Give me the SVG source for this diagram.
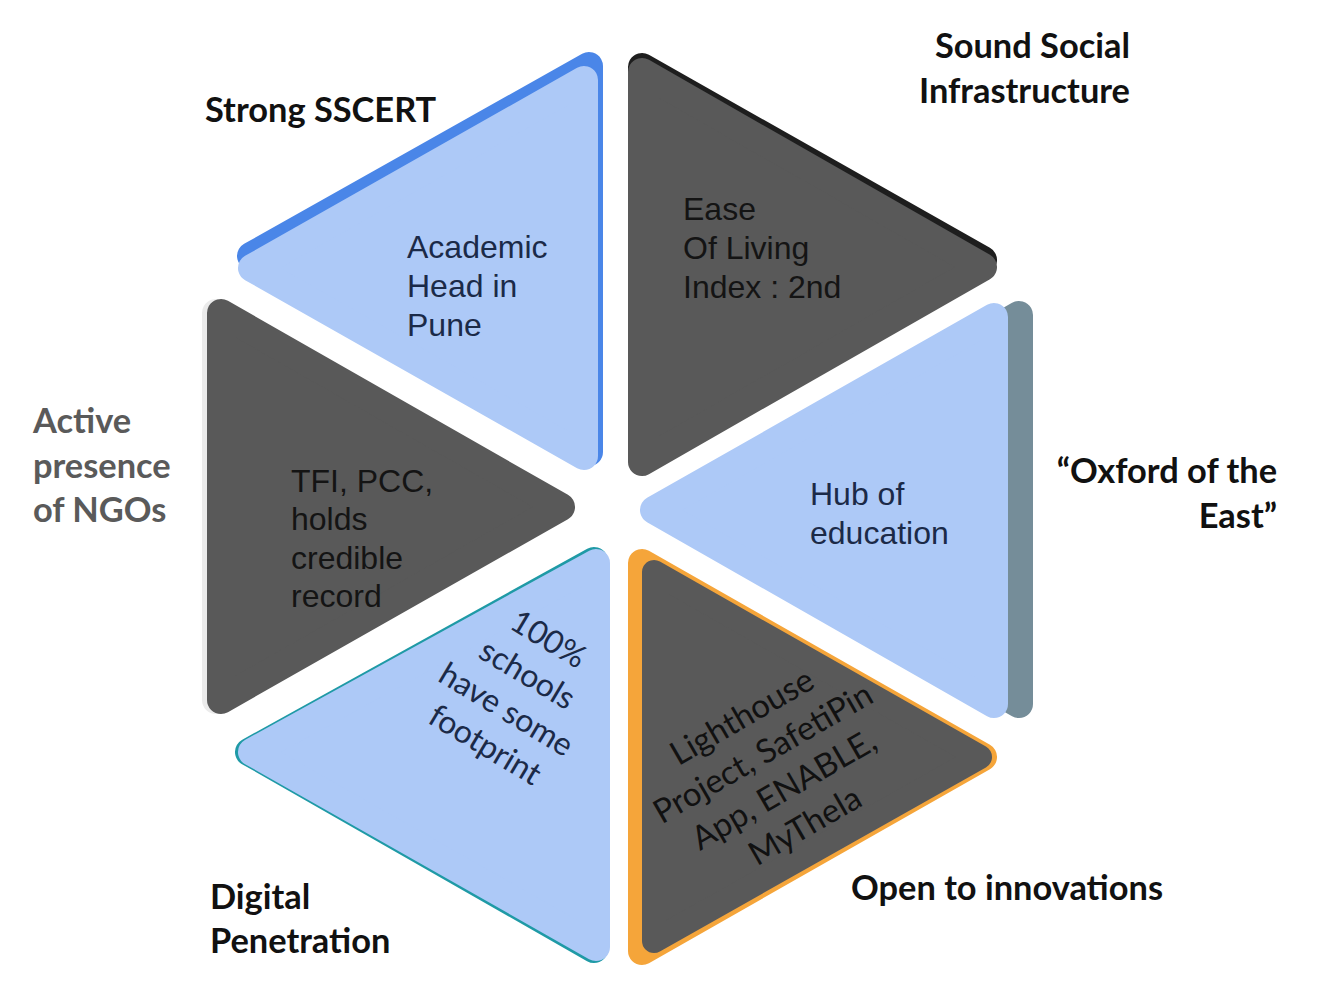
<svg xmlns="http://www.w3.org/2000/svg" width="1326" height="1001" viewBox="0 0 1326 1001">
<style>
.r{stroke-linejoin:round;stroke-width:28}
.lb{fill:#adc9f7;stroke:#adc9f7}
.dg{fill:#595959;stroke:#595959}
.t{font-family:"Liberation Sans",Arial,sans-serif;font-size:32px}
.tl{fill:#1b2a48}
.td{fill:#141414}
.rot{font-family:Lato,"Open Sans",sans-serif;font-size:32px;text-anchor:middle}
.lab{font-family:Lato,"Open Sans",sans-serif;font-weight:bold;font-size:34.4px;fill:#111}
</style>
<rect width="1326" height="1001" fill="#ffffff"/>

<g id="node-academic">
<polygon class="r" fill="#4a86e8" stroke="#4a86e8" points="589,66 589,452 251,256"/>
<polygon class="r lb" points="584,80 584,456 252,268"/>
<text class="t tl"><tspan x="407" y="258">Academic</tspan><tspan x="407" y="297">Head in</tspan><tspan x="407" y="336">Pune</tspan></text>
</g>

<g id="node-ease">
<polygon class="r" fill="#1e1e1e" stroke="#1e1e1e" points="642,67 642,458 983,260"/>
<polygon class="r dg" points="642,72 642,462 983,267"/>
<text class="t td"><tspan x="683" y="220">Ease</tspan><tspan x="683" y="259">Of Living</tspan><tspan x="683" y="298">Index : 2nd</tspan></text>
</g>

<g id="node-tfi">
<polygon class="r" fill="#ebebeb" stroke="#ebebeb" points="216,313 216,700 556,507"/>
<polygon class="r dg" points="221,313 221,700 561,507"/>
<text class="t td"><tspan x="291" y="492">TFI, PCC,</tspan><tspan x="291" y="530">holds</tspan><tspan x="291" y="569">credible</tspan><tspan x="291" y="607">record</tspan></text>
</g>

<g id="node-hub">
<polygon class="r" fill="#758d99" stroke="#758d99" points="1019,315 1019,704 679,510"/>
<polygon class="r lb" points="994,317 994,704 654,510"/>
<text class="t tl"><tspan x="810" y="505">Hub of</tspan><tspan x="810" y="544">education</tspan></text>
</g>

<g id="node-schools">
<polygon class="r" fill="#1f9aa6" stroke="#1f9aa6" points="594,561 594,949 249,752"/>
<polygon class="r lb" points="596,563 596,947 252,752"/>
<g transform="translate(548,640) rotate(31)">
<text class="rot" fill="#1b2a48"><tspan x="0" y="10">100%</tspan><tspan x="0" y="51">schools</tspan><tspan x="0" y="92">have some</tspan><tspan x="0" y="133">footprint</tspan></text>
</g>
</g>

<g id="node-lighthouse">
<polygon class="r" fill="#f5a53a" stroke="#f5a53a" points="642,563 642,951 983,757"/>
<polygon fill="#595959" stroke="#595959" stroke-width="24" stroke-linejoin="round" points="654,572 654,941 980,757"/>
<g transform="translate(742,717) rotate(-30)">
<text class="rot" fill="#111111" style="font-size:33px"><tspan x="0" y="11">Lighthouse</tspan><tspan x="0" y="53">Project, SafetiPin</tspan><tspan x="0" y="95">App, ENABLE,</tspan><tspan x="0" y="137">MyThela</tspan></text>
</g>
</g>

<g id="labels">
<text class="lab" x="205" y="122">Strong SSCERT</text>
<text class="lab" text-anchor="end"><tspan x="1130" y="58">Sound Social</tspan><tspan x="1130" y="103">Infrastructure</tspan></text>
<text class="lab" style="fill:#5a5a5a"><tspan x="33" y="433">Active</tspan><tspan x="33" y="478">presence</tspan><tspan x="33" y="522">of NGOs</tspan></text>
<text class="lab" text-anchor="end"><tspan x="1277" y="483">“Oxford of the</tspan><tspan x="1277" y="528">East”</tspan></text>
<text class="lab" x="851" y="900">Open to innovations</text>
<text class="lab"><tspan x="210" y="909">Digital</tspan><tspan x="210" y="953">Penetration</tspan></text>
</g>
</svg>
